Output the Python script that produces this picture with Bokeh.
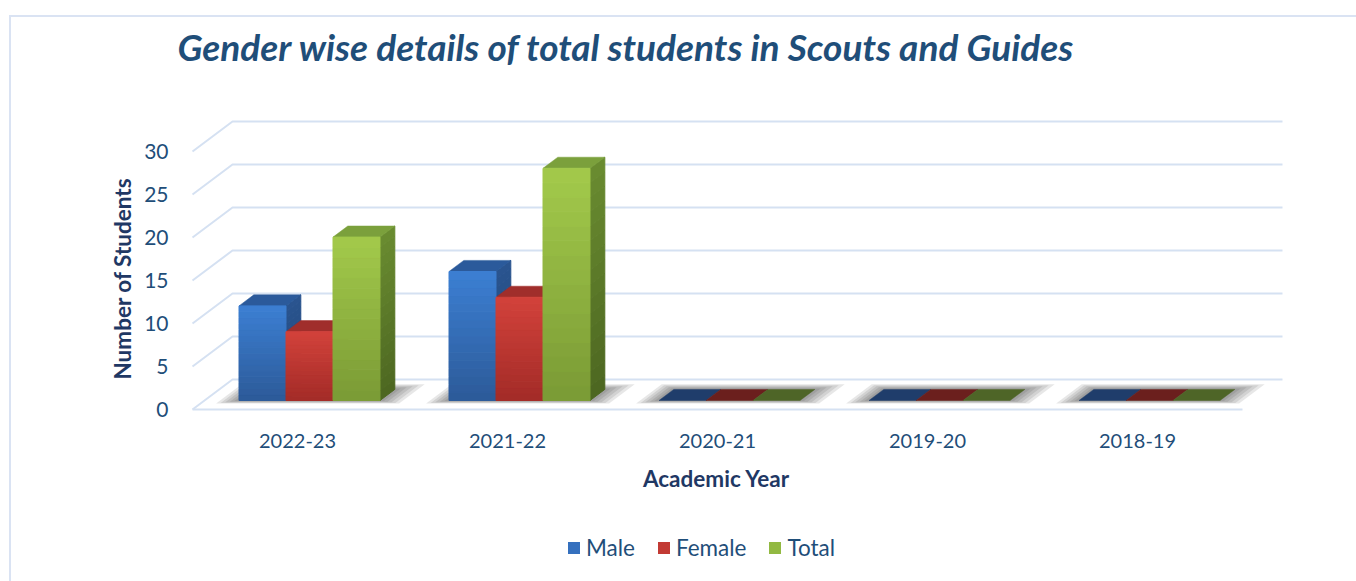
from bokeh.plotting import figure
from bokeh.models import Range1d, FixedTicker, Legend, LegendItem, Title
from bokeh.layouts import column
from bokeh.core.properties import value
from bokeh.embed import file_html
from bokeh.resources import INLINE

# ---------------- data ----------------
years = ["2022-23", "2021-22", "2020-21", "2019-20", "2018-19"]
male = [11, 15, 0, 0, 0]
female = [8, 12, 0, 0, 0]
total = [19, 27, 0, 0, 0]
series_names = ["Male", "Female", "Total"]
y_ticks = [0, 5, 10, 15, 20, 25, 30]
title_text = "Gender wise details of total students in Scouts and Guides"
x_title = "Academic Year"
y_title = "Number of Students"

# ---------------- styling ----------------
FONT = "Lato"
TXT = "#1F4E79"
AX_TXT = "#1F3864"
GRID = "#D5E1F2"
front_top = ["#3C7FD3", "#D2423B", "#A3CA4B"]
front_bot = ["#2C5A98", "#A32B27", "#7A9A35"]
side_top = ["#2A5590", "#9E2B28", "#6A8C30"]
side_bot = ["#1F4173", "#7A1F1D", "#4C6621"]
top_col = ["#2B5A9B", "#A02E2B", "#7BA03C"]
zero_col = ["#1F3D6B", "#6B1F1D", "#4E6527"]
legend_col = ["#3570BE", "#C23A34", "#92B942"]

W = 1356
HT, HM, HL = 110, 350, 121            # title strip, main chart, legend strip
FL, FR = 186, 1296                     # frame left/right (px)
FH = 310                               # main frame height (canvas y 110..420)
PX0, PXU = 192.0, 210.0                # x=0 pixel, px per category
PY0, PYU = 409.0 - HT, 8.6             # y=0 pixel inside main figure, px per student
DX, DY = 40.0 / PXU, 30.0 / PYU        # full floor depth in data units
t0, tb = 0.30, 0.37                    # bar front depth, bar depth
w = 47.0 / PXU
g0 = (1 - 3 * w) / 2
N = 16
NAN = float("nan")


def mix(c1, c2, t):
    a = [int(c1[k:k + 2], 16) for k in (1, 3, 5)]
    b = [int(c2[k:k + 2], 16) for k in (1, 3, 5)]
    return "#%02x%02x%02x" % tuple(round(a[m] * (1 - t) + b[m] * t) for m in range(3))


def no_align(f):
    try:
        f.frame_align = False
    except Exception:
        pass


def strip(height):
    f = figure(width=W, height=height, output_backend="svg", toolbar_location=None,
               x_range=Range1d(0, W), y_range=Range1d(height, 0),
               x_axis_type=None, y_axis_type=None, min_border=0)
    f.outline_line_color = None
    f.background_fill_color = None
    f.border_fill_color = None
    f.grid.visible = False
    no_align(f)
    return f


# ---------------- title strip ----------------
pt = strip(HT)
pt.text(x=[177], y=[46], text=[title_text], text_font=value(FONT), text_font_size="37px",
        text_font_style="bold italic", text_color=TXT, text_align="left",
        text_baseline="middle")

# ---------------- main chart ----------------
p = figure(width=W, height=HM, output_backend="svg", toolbar_location=None,
           x_range=Range1d((FL - PX0) / PXU, (FR - PX0) / PXU),
           y_range=Range1d(-(FH - PY0) / PYU, PY0 / PYU),
           min_border_left=FL, min_border_right=W - FR,
           min_border_top=0, min_border_bottom=HM - FH)
p.outline_line_color = None
p.background_fill_color = None
p.border_fill_color = None
p.grid.visible = False
no_align(p)

ncat = len(years)
gx, gy = [], []
for v in y_ticks:
    gx.append([0, DX, ncat + DX])
    gy.append([v, v + DY, v + DY])
gx.append([0, ncat])
gy.append([0, 0])
p.multi_line(gx, gy, line_color=GRID, line_width=2)

for layer in range(5):
    f = layer / 5.0
    xs, ys = [], []
    for i in range(ncat):
        a0 = i + g0 - 0.09 * (1 - f)
        a1 = i + g0 + 3 * w + 0.11 * (1 - f)
        d0 = t0 - 0.10 * (1 - f)
        d1 = t0 + tb + 0.17 * (1 - f)
        xs.append([a0 + d0 * DX, a1 + d0 * DX, a1 + d1 * DX, a0 + d1 * DX])
        ys.append([d0 * DY, d0 * DY, d1 * DY, d1 * DY])
    p.patches(xs, ys, fill_color="#3A3A3A", fill_alpha=0.12, line_color=None)

side_xs, side_ys, side_c = [], [], []
top_xs, top_ys, top_c = [], [], []
fl, fr, fb, ft, fc = [], [], [], [], []
values = [male, female, total]
for i in range(ncat):
    for j, vals in enumerate(values):
        v = vals[i]
        xl = i + g0 + j * w + t0 * DX
        xr = xl + w
        yb = t0 * DY
        yt = yb + v
        ddx, ddy = tb * DX, tb * DY
        if v > 0:
            for k in range(N):
                y0 = yb + v * k / N
                y1 = yb + v * (k + 1) / N
                tt = 1 - (k + 0.5) / N
                side_xs.append([xr, xr, xr + ddx, xr + ddx])
                side_ys.append([y0, y1, y1 + ddy, y0 + ddy])
                side_c.append(mix(side_top[j], side_bot[j], tt))
                fl.append(xl); fr.append(xr); fb.append(y0); ft.append(y1)
                fc.append(mix(front_top[j], front_bot[j], tt))
        top_xs.append([xl, xr, xr + ddx, xl + ddx])
        top_ys.append([yt, yt, yt + ddy, yt + ddy])
        top_c.append(top_col[j] if v > 0 else zero_col[j])

p.patches(side_xs, side_ys, fill_color=side_c, line_color=side_c, line_width=1)
p.patches(top_xs, top_ys, fill_color=top_c, line_color=top_c, line_width=0.5)
p.quad(left=fl, right=fr, bottom=fb, top=ft, fill_color=fc, line_color=fc, line_width=1)

p.yaxis.ticker = FixedTicker(ticks=y_ticks)
p.yaxis.axis_line_color = None
p.yaxis.major_tick_line_color = None
p.yaxis.minor_tick_line_color = None
p.yaxis.major_label_standoff = 12
p.yaxis.major_label_text_font = FONT
p.yaxis.major_label_text_font_size = "21px"
p.yaxis.major_label_text_color = TXT

p.xaxis.ticker = FixedTicker(ticks=[i + 0.5 for i in range(ncat)])
p.xaxis.major_label_overrides = {i + 0.5: years[i] for i in range(ncat)}
p.xaxis.axis_line_color = None
p.xaxis.major_tick_line_color = None
p.xaxis.minor_tick_line_color = None
p.xaxis.major_label_standoff = 7
p.xaxis.major_label_text_font = FONT
p.xaxis.major_label_text_font_size = "20px"
p.xaxis.major_label_text_color = TXT

p.add_layout(Title(text=y_title, align="left", offset=41, standoff=12,
                   text_font=FONT, text_font_size="22.5px", text_font_style="bold",
                   text_color=AX_TXT), "left")

# ---------------- legend strip ----------------
pl = strip(HL)
pl.text(x=[716], y=[478 - (HT + HM)], text=[x_title], text_font=value(FONT),
        text_font_size="22.5px", text_font_style="bold", text_color=AX_TXT,
        text_align="center", text_baseline="middle")
items = []
for j, name in enumerate(series_names):
    r = pl.quad(left=[NAN], right=[NAN], bottom=[NAN], top=[NAN],
                fill_color=legend_col[j], line_color=None)
    items.append(LegendItem(label=name, renderers=[r]))
leg = Legend(items=items, orientation="horizontal", location=(566, 20),
             glyph_width=15, glyph_height=15, label_standoff=5, spacing=21,
             padding=0, margin=0, border_line_color=None, background_fill_alpha=0,
             label_text_font=FONT, label_text_font_size="22.5px", label_text_color=TXT)
pl.add_layout(leg)

layout = column(pt, p, pl, spacing=0)
layout.styles = {
    "background-color": "white",
    "background-image": "linear-gradient(#DAE3F3,#DAE3F3), linear-gradient(#DAE3F3,#DAE3F3)",
    "background-size": "2px 600px, 1400px 2px",
    "background-position": "9px 15px, 9px 15px",
    "background-repeat": "no-repeat",
}

open("out.html", "w").write(file_html(layout, INLINE))
